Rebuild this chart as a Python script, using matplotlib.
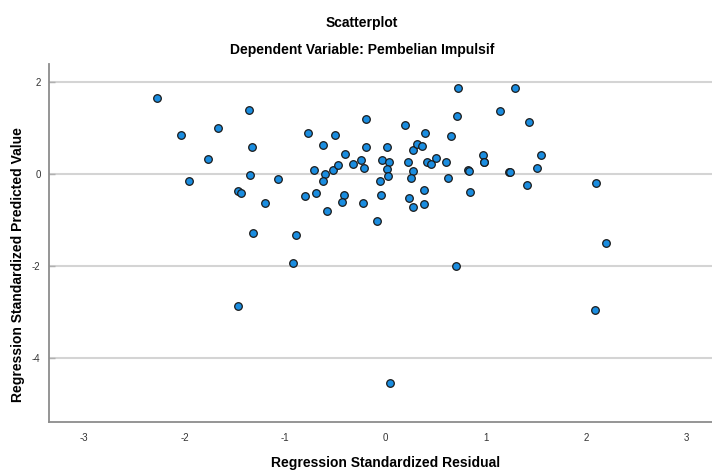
import matplotlib
matplotlib.use("Agg")
import matplotlib.pyplot as plt

# Regression Standardized Residual (x) vs Regression Standardized Predicted Value (y)
resid = [
    -2.27, -2.04, -1.96, -1.77, -1.67, -1.36, -1.33, -1.35, -1.47, -1.44,
    -1.20, -1.32, -1.07, -0.89, -0.77, -0.62, -0.71, -0.60, -0.62, -0.80,
    -0.69, -0.58, -0.50, -0.40, -0.52, -0.47, -0.32, -0.41, -0.43,
    -0.92, 0.70, -1.47, 2.09, 0.04,
    -0.19, -0.19, -0.24, -0.21, -0.22, -0.08, -0.05, -0.04, -0.03, 0.01,
    0.03, 0.01, 0.02, 0.19, 0.22, 0.27, 0.31, 0.36, 0.39, 0.27,
    0.25, 0.23, 0.27, 0.38, 0.38, 0.41, 0.45, 0.50, 0.60, 0.62,
    0.65, 0.71, 0.72, 0.82, 0.83, 0.84, 0.97, 0.98, 0.98, 1.14,
    1.29, 1.23, 1.24, 1.43, 1.41, 1.51, 1.55, 2.10, 2.20,
]
pred = [
    1.65, 0.84, -0.15, 0.32, 1.01, 1.38, 0.58, -0.03, -0.38, -0.42,
    -0.62, -1.28, -0.10, -1.33, 0.90, 0.62, 0.08, -0.01, -0.15, -0.47,
    -0.41, -0.80, 0.84, 0.44, 0.08, 0.20, 0.22, -0.46, -0.60,
    -1.93, -1.99, -2.87, -2.95, -4.55,
    1.20, 0.59, 0.31, 0.13, -0.62, -1.03, -0.15, -0.46, 0.30, 0.58,
    0.25, 0.11, -0.05, 1.06, 0.25, 0.52, 0.65, 0.60, 0.88, 0.06,
    -0.08, -0.52, -0.72, -0.34, -0.65, 0.25, 0.22, 0.34, 0.25, -0.08,
    0.83, 1.25, 1.86, 0.08, 0.07, -0.40, 0.42, 0.25, 0.26, 1.36,
    1.86, 0.05, 0.04, 1.13, -0.25, 0.13, 0.41, -0.19, -1.51,
]

x_ticks = [-3, -2, -1, 0, 1, 2, 3]
y_ticks = [2, 0, -2, -4]

plt.rcParams["font.family"] = ["Liberation Sans", "DejaVu Sans"]
plt.rcParams["axes.unicode_minus"] = False

fig = plt.figure(figsize=(7.12, 4.70), dpi=100)
# axes runs a bit past the right edge, like the cropped original
ax = fig.add_axes([49 / 712, 48 / 470, 673 / 712, 358 / 470])

ax.set_xlim(-3.35, 3.35)
ax.set_ylim(-5.39, 2.39)

for yv in y_ticks:
    ax.axhline(yv, color="#d4d4d4", lw=1.5, zorder=1)

ax.scatter(resid, pred, s=30, c="#1a8de0", edgecolors="#1a1a1a", linewidths=0.9, zorder=3)

ax.set_xticks(x_ticks)
ax.set_yticks(y_ticks)
ax.tick_params(axis="x", length=0, labelsize=7, colors="#333333", pad=8)
ax.tick_params(axis="y", direction="in", length=4, width=1, color="#b0b0b0",
               labelsize=7, labelcolor="#333333", pad=6)

for side in ["top", "right"]:
    ax.spines[side].set_visible(False)
for side in ["left", "bottom"]:
    ax.spines[side].set_color("#8c8c8c")
    ax.spines[side].set_linewidth(1.3)

# axis titles placed by hand, the original has them tight to the edges
fig.text(386 / 712, 1 - 463 / 470, "Regression Standardized Residual", ha="center", va="center",
         fontsize=10, fontweight="bold")
fig.text(18 / 712, 1 - 265 / 470, "Regression Standardized Predicted Value", ha="center", va="center",
         rotation=90, fontsize=10, fontweight="bold")

fig.text(362 / 712, 1 - 23 / 470, "Scatterplot", ha="center", va="center", fontsize=10, fontweight="bold")
fig.text(362 / 712, 1 - 50 / 470, "Dependent Variable: Pembelian Impulsif", ha="center", va="center",
         fontsize=10, fontweight="bold")

fig.savefig("out.png", dpi=100)
